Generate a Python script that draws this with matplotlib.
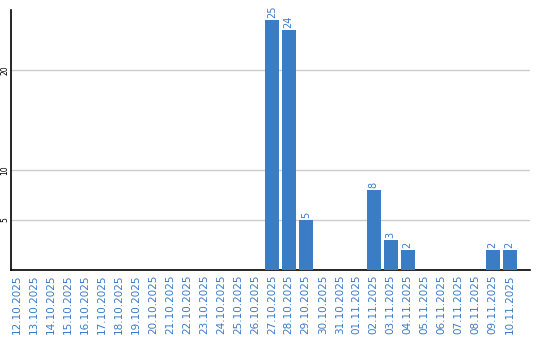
import matplotlib
matplotlib.use("Agg")
import matplotlib.pyplot as plt
import numpy as np

dates = ["12.10.2025", "13.10.2025", "14.10.2025", "15.10.2025", "16.10.2025",
         "17.10.2025", "18.10.2025", "19.10.2025", "20.10.2025", "21.10.2025",
         "22.10.2025", "23.10.2025", "24.10.2025", "25.10.2025", "26.10.2025",
         "27.10.2025", "28.10.2025", "29.10.2025", "30.10.2025", "31.10.2025",
         "01.11.2025", "02.11.2025", "03.11.2025", "04.11.2025", "05.11.2025",
         "06.11.2025", "07.11.2025", "08.11.2025", "09.11.2025", "10.11.2025"]
counts = [0, 0, 0, 0, 0, 0, 0, 0, 0, 0, 0, 0, 0, 0, 0,
          25, 24, 5, 0, 0, 0, 8, 3, 2, 0, 0, 0, 0, 2, 2]
yticks = [5, 10, 20]

bar_color = "#3b7dc4"
text_color = "#3a7bc8"

fig = plt.figure(figsize=(5.4, 3.4), dpi=100)
ax = fig.add_axes([0.0204, 0.206, 0.961, 0.765])

x = np.arange(len(dates))
ax.bar(x, counts, width=0.82, color=bar_color, zorder=3)
for xi, v in zip(x, counts):
    if v > 0:
        ax.text(xi, v + 0.15, str(v), rotation=90, ha="center", va="bottom",
                color=text_color, fontsize=7, zorder=4)

ax.set_xlim(-0.35, 30.2)
ax.set_ylim(0, 26)
ax.set_yticks(yticks)
ax.set_yticklabels([str(t) for t in yticks], rotation=90, va="center", fontsize=5.5)
ax.yaxis.grid(True, color="#cccccc", linewidth=1, zorder=0)
ax.set_xticks(x)
ax.set_xticklabels(dates, rotation=90, fontsize=7.5, color=text_color)
ax.tick_params(axis="x", length=0, pad=3)
ax.tick_params(axis="y", length=0, pad=1)

for s in ["top", "right"]:
    ax.spines[s].set_visible(False)
ax.spines["left"].set_linewidth(1.2)
ax.spines["bottom"].set_linewidth(1.2)

fig.savefig("out.png", dpi=100)
